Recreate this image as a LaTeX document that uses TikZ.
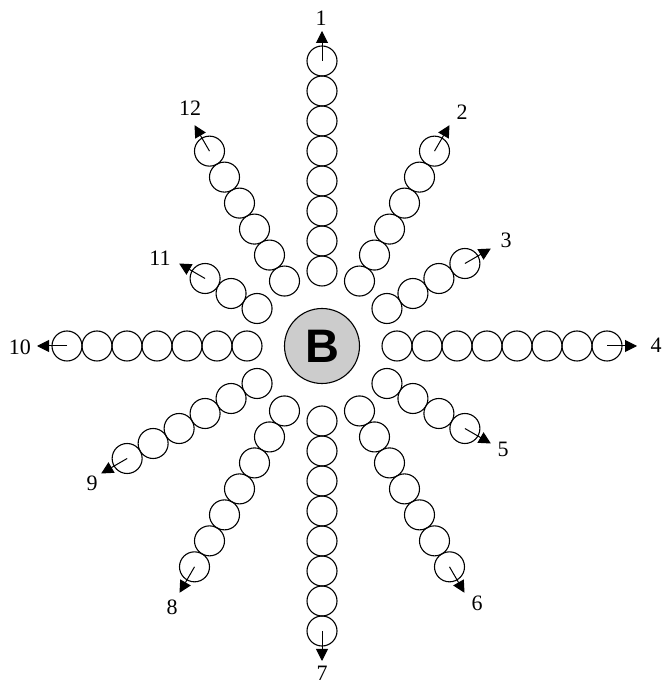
\documentclass[tikz,border=0pt]{standalone}
\usepackage{fontspec}
\setmainfont{Liberation Serif}
\newfontfamily\bfsans{Liberation Sans}
\usetikzlibrary{arrows.meta}
\begin{document}
\begin{tikzpicture}[x=1pt,y=1pt,
  bead/.style={circle,draw=black,line width=1.1pt,minimum size=30pt,inner sep=0pt},
  hub/.style={circle,draw=black,line width=1.1pt,fill=black!20,minimum size=75pt,inner sep=0pt,font=\bfsans\bfseries\fontsize{47}{47}\selectfont},
  arr/.style={line width=1pt,-{Triangle[length=12pt,width=12pt]}},
  lab/.style={inner sep=0pt,font=\fontsize{22}{22}\selectfont}]
\useasboundingbox (0,0) rectangle (663,686);
\node[hub] (B) at (322,340) {B};
\foreach \k/\ang/\n in {1/90/8, 2/60/6, 3/30/4, 4/0/8, 5/-30/4, 6/-60/7, 7/-90/8, 8/-120/7, 9/-150/6, 10/180/7, 11/150/3, 12/120/6}{
  \foreach \i in {1,...,\n}{
    \path (B.center) ++(\ang:{75+30*(\i-1)}) node[bead] (c\k-\i) {};
  }
  \draw[arr] (c\k-\n.center) -- ++(\ang:30) coordinate (t\k);
}
\foreach \k/\x/\y in {1/321/668, 2/462/574, 3/506/446, 4/656/341, 5/503/237, 6/477/83, 7/322/13, 8/172/79, 9/92/203, 10/20/339, 11/160/428, 12/190/578}{
  \node[lab] (l\k) at (\x,\y) {\k};
}
\end{tikzpicture}
\end{document}
